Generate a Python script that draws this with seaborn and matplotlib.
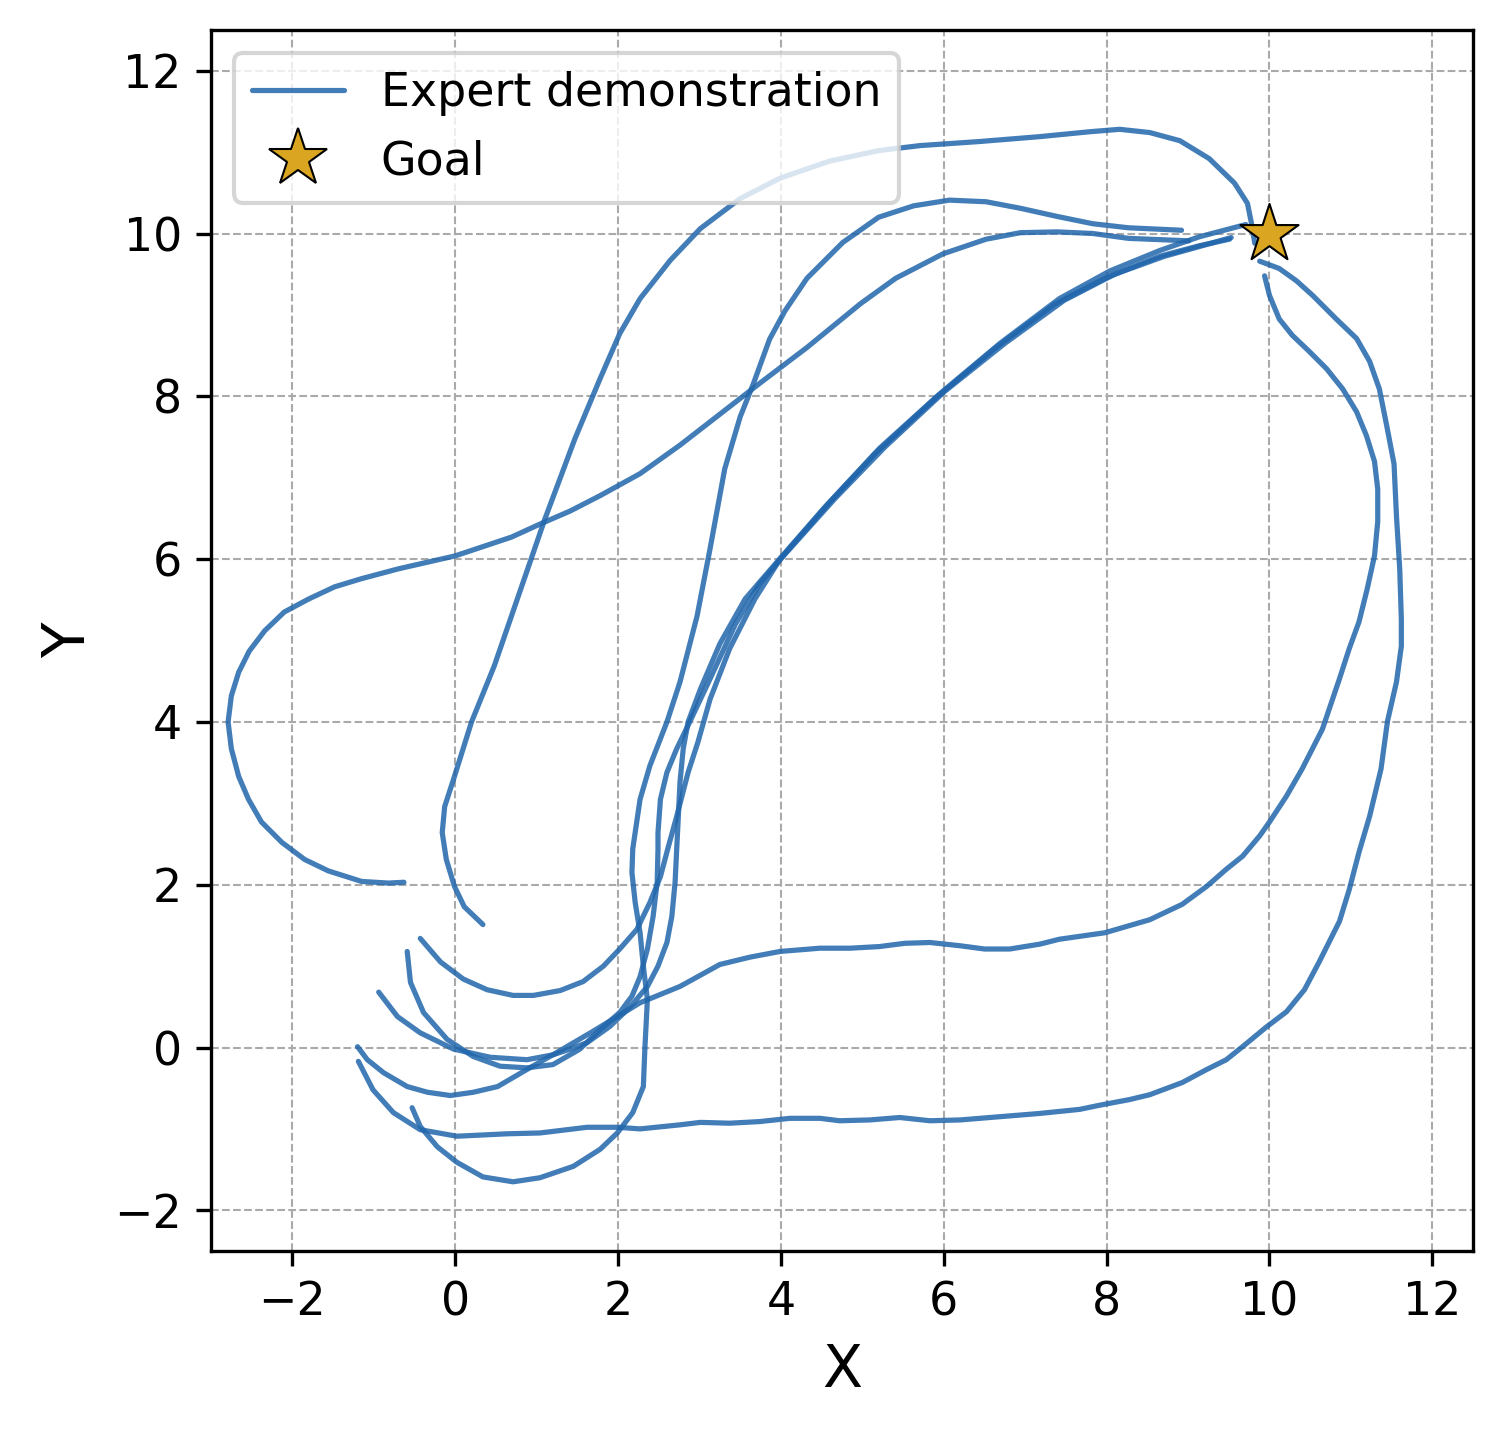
import numpy as np
import pandas as pd
import matplotlib
matplotlib.use("Agg")
import matplotlib.pyplot as plt
from matplotlib.lines import Line2D
import seaborn as sns

# ---- data: expert demonstration trajectories ----
traj_a_x = [-0.63, -0.82, -1.15, -1.56, -1.85, -2.13, -2.38, -2.54, -2.66, -2.75, -2.79, -2.75, -2.66,
            -2.53, -2.34, -2.10, -1.80, -1.48, -1.15, -0.70, 0.00, 0.69, 1.04, 1.41, 1.78, 2.27, 2.76,
            3.25, 3.74, 4.32, 4.98, 5.41, 5.99, 6.52, 6.94, 7.39, 7.83, 8.27, 9.01]
traj_a_y = [2.03, 2.02, 2.04, 2.17, 2.31, 2.52, 2.77, 3.05, 3.33, 3.67, 4.00, 4.32, 4.61,
            4.87, 5.12, 5.35, 5.51, 5.66, 5.76, 5.88, 6.04, 6.27, 6.43, 6.59, 6.78, 7.05, 7.40,
            7.78, 8.16, 8.60, 9.14, 9.45, 9.75, 9.93, 10.01, 10.02, 10.00, 9.94, 9.91]

traj_b_x = [-0.53, -0.43, -0.22, 0.02, 0.34, 0.71, 1.04, 1.45, 1.78, 1.99, 2.18, 2.31, 2.33, 2.36,
            2.31, 2.27, 2.21, 2.17, 2.18, 2.27, 2.39, 2.60, 2.76, 2.97, 3.13, 3.31, 3.50, 3.66,
            3.86, 4.05, 4.32, 4.76, 5.20, 5.63, 6.07, 6.52, 6.94, 7.39, 7.83, 8.27, 8.92]
traj_b_y = [-0.74, -0.97, -1.22, -1.41, -1.59, -1.65, -1.60, -1.46, -1.25, -1.05, -0.80, -0.48, 0.01, 0.59,
            1.00, 1.41, 1.78, 2.15, 2.44, 3.05, 3.46, 4.00, 4.49, 5.30, 6.13, 7.11, 7.75, 8.15,
            8.70, 9.05, 9.45, 9.89, 10.20, 10.34, 10.41, 10.39, 10.31, 10.21, 10.12, 10.07, 10.04]

traj_c_x = [0.34, 0.11, -0.01, -0.11, -0.16, -0.13, -0.01, 0.20, 0.48, 0.69, 1.10, 1.47, 1.78, 2.02,
            2.27, 2.64, 3.01, 3.50, 3.99, 4.60, 5.21, 5.71, 6.44, 7.18, 7.79, 8.16, 8.53, 8.90,
            9.26, 9.57, 9.73, 9.78, 9.82]
traj_c_y = [1.51, 1.73, 1.98, 2.31, 2.64, 2.96, 3.33, 4.00, 4.69, 5.30, 6.49, 7.48, 8.22, 8.77,
            9.20, 9.67, 10.06, 10.43, 10.68, 10.89, 11.02, 11.08, 11.13, 11.19, 11.25, 11.28, 11.24, 11.14,
            10.92, 10.62, 10.37, 10.12, 9.88]

traj_d_x = [-1.20, -1.08, -0.88, -0.59, -0.34, -0.06, 0.22, 0.52, 0.88, 1.25, 1.66, 1.99, 2.27, 2.76,
            3.25, 3.62, 3.99, 4.48, 4.85, 5.21, 5.52, 5.83, 6.20, 6.50, 6.81, 7.18, 7.42, 7.98,
            8.53, 8.93, 9.23, 9.47, 9.67, 9.88, 10.00, 10.21, 10.40, 10.65, 10.86, 10.98, 11.10, 11.20,
            11.29, 11.33, 11.33, 11.29, 11.19, 11.07, 10.90, 10.70, 10.49, 10.28, 10.12, 10.00, 9.94]
traj_d_y = [0.01, -0.15, -0.31, -0.48, -0.55, -0.59, -0.55, -0.48, -0.27, -0.06, 0.18, 0.38, 0.55, 0.75,
            1.02, 1.11, 1.18, 1.22, 1.22, 1.24, 1.28, 1.29, 1.25, 1.21, 1.21, 1.27, 1.33, 1.41,
            1.57, 1.76, 1.98, 2.19, 2.35, 2.60, 2.77, 3.09, 3.42, 3.91, 4.53, 4.90, 5.23, 5.63,
            6.04, 6.46, 6.86, 7.20, 7.52, 7.81, 8.09, 8.34, 8.55, 8.75, 8.95, 9.24, 9.48]

traj_e_x = [-1.19, -1.01, -0.76, -0.43, 0.02, 0.64, 1.04, 1.62, 1.99, 2.27, 2.76, 3.01, 3.37, 3.74,
            4.11, 4.48, 4.72, 5.09, 5.46, 5.83, 6.20, 6.69, 7.18, 7.67, 7.91, 8.28, 8.53, 8.93,
            9.23, 9.47, 9.67, 9.96, 10.21, 10.43, 10.61, 10.86, 10.98, 11.10, 11.23, 11.37, 11.45, 11.56,
            11.62, 11.62, 11.60, 11.56, 11.53, 11.44, 11.35, 11.23, 11.07, 10.82, 10.53, 10.33, 10.12, 9.88]
traj_e_y = [-0.17, -0.52, -0.80, -1.01, -1.09, -1.06, -1.05, -0.98, -0.98, -1.00, -0.95, -0.92, -0.93, -0.91,
            -0.87, -0.87, -0.90, -0.89, -0.86, -0.90, -0.89, -0.85, -0.81, -0.76, -0.71, -0.64, -0.58, -0.43,
            -0.27, -0.15, 0.01, 0.25, 0.44, 0.71, 1.05, 1.55, 1.94, 2.40, 2.84, 3.42, 4.01, 4.49,
            4.93, 5.26, 5.88, 6.53, 7.17, 7.64, 8.09, 8.43, 8.71, 8.95, 9.24, 9.42, 9.57, 9.66]

traj_f_x = [-0.43, -0.18, 0.10, 0.39, 0.71, 0.96, 1.29, 1.57, 1.82, 2.02, 2.23, 2.39, 2.52, 2.61,
            2.72, 2.86, 2.98, 3.13, 3.37, 3.68, 3.99, 4.60, 5.21, 5.95, 6.69, 7.42, 8.04, 8.65,
            9.14, 9.71]
traj_f_y = [1.34, 1.05, 0.84, 0.71, 0.64, 0.64, 0.70, 0.81, 1.00, 1.21, 1.45, 1.78, 2.10, 2.44,
            2.84, 3.38, 3.75, 4.28, 4.90, 5.51, 6.00, 6.70, 7.36, 8.03, 8.65, 9.20, 9.54, 9.79,
            9.96, 10.11]

traj_g_x = [-0.59, -0.55, -0.39, -0.10, 0.22, 0.55, 0.88, 1.20, 1.53, 1.78, 2.02, 2.17, 2.27, 2.36,
            2.43, 2.48, 2.49, 2.49, 2.52, 2.60, 2.72, 2.88, 3.13, 3.44, 3.74, 4.05, 4.66, 5.28,
            6.01, 6.75, 7.48, 8.10, 8.71, 9.14, 9.53]
traj_g_y = [1.18, 0.80, 0.43, 0.10, -0.11, -0.23, -0.25, -0.21, -0.02, 0.22, 0.43, 0.63, 0.87, 1.21,
            1.61, 2.03, 2.44, 2.64, 3.05, 3.38, 3.67, 4.00, 4.53, 5.20, 5.70, 6.06, 6.74, 7.38,
            8.06, 8.65, 9.18, 9.50, 9.72, 9.84, 9.95]

traj_h_x = [-0.94, -0.71, -0.43, -0.02, 0.43, 0.88, 1.20, 1.41, 1.62, 1.90, 2.15, 2.36, 2.49, 2.60,
            2.66, 2.70, 2.72, 2.74, 2.76, 2.80, 2.86, 3.01, 3.25, 3.56, 3.93, 4.54, 5.15, 5.89,
            6.63, 7.36, 7.98, 8.65, 9.14, 9.51]
traj_h_y = [0.68, 0.38, 0.18, -0.02, -0.12, -0.15, -0.09, -0.02, 0.06, 0.26, 0.50, 0.75, 1.00, 1.29,
            1.61, 2.03, 2.44, 2.84, 3.26, 3.67, 4.00, 4.40, 4.96, 5.51, 5.94, 6.64, 7.29, 7.97,
            8.59, 9.13, 9.45, 9.72, 9.85, 9.93]

goal_x = [10.0]
goal_y = [10.0]

x_ticks = [-2, 0, 2, 4, 6, 8, 10, 12]
y_ticks = [-2, 0, 2, 4, 6, 8, 10, 12]

# ---- build long-form table ----
trajs = {
    "a": (traj_a_x, traj_a_y), "b": (traj_b_x, traj_b_y), "c": (traj_c_x, traj_c_y),
    "d": (traj_d_x, traj_d_y), "e": (traj_e_x, traj_e_y), "f": (traj_f_x, traj_f_y),
    "g": (traj_g_x, traj_g_y), "h": (traj_h_x, traj_h_y),
}
frames = []
for name, (xs, ys) in trajs.items():
    frames.append(pd.DataFrame({"x": xs, "y": ys, "traj": name, "step": np.arange(len(xs))}))
df = pd.concat(frames, ignore_index=True)

sns.set_style("ticks")
plt.rcParams["font.family"] = ["DejaVu Sans"]
plt.rcParams["text.color"] = "black"
plt.rcParams["axes.labelcolor"] = "black"
plt.rcParams["xtick.color"] = "black"
plt.rcParams["ytick.color"] = "black"

line_color = "#2166ac"
goal_color = "#DAA520"

fig = plt.figure(figsize=(1503 / 300, 1437 / 300), dpi=300)
ax = fig.add_axes([211 / 1503, 1 - 1251 / 1437, (1473 - 211) / 1503, (1251 - 30) / 1437])

sns.lineplot(data=df, x="x", y="y", units="traj", estimator=None, sort=False,
             color=line_color, alpha=0.85, linewidth=1.25, ax=ax, legend=False)

sns.scatterplot(x=goal_x, y=goal_y, marker="*", s=215, color=goal_color,
                edgecolor="black", linewidth=0.5, ax=ax, zorder=5, legend=False)

ax.set_xlim(-3, 12.5)
ax.set_ylim(-2.5, 12.5)
ax.set_xticks(x_ticks)
ax.set_yticks(y_ticks)
ax.grid(True, linestyle="--", linewidth=0.5, color="#aaaaaa")
ax.set_axisbelow(True)
for s in ax.spines.values():
    s.set_visible(True)
    s.set_color("black")
    s.set_linewidth(0.8)
ax.tick_params(axis="both", labelsize=11, colors="black", labelcolor="black",
               direction="out", length=3.5, width=0.8)
ax.set_xlabel("X", fontsize=14, color="black")
ax.set_ylabel("Y", fontsize=14, color="black")

handles = [
    Line2D([0], [0], color=line_color, alpha=0.85, linewidth=1.25, label="Expert demonstration"),
    Line2D([0], [0], marker="*", linestyle="None", markersize=14.6, markerfacecolor=goal_color,
           markeredgecolor="black", markeredgewidth=0.5, label="Goal"),
]
leg = ax.legend(handles=handles, loc="upper left", fontsize=11, framealpha=0.8)
for t in leg.get_texts():
    t.set_color("black")

fig.savefig("out.png", dpi=300)
